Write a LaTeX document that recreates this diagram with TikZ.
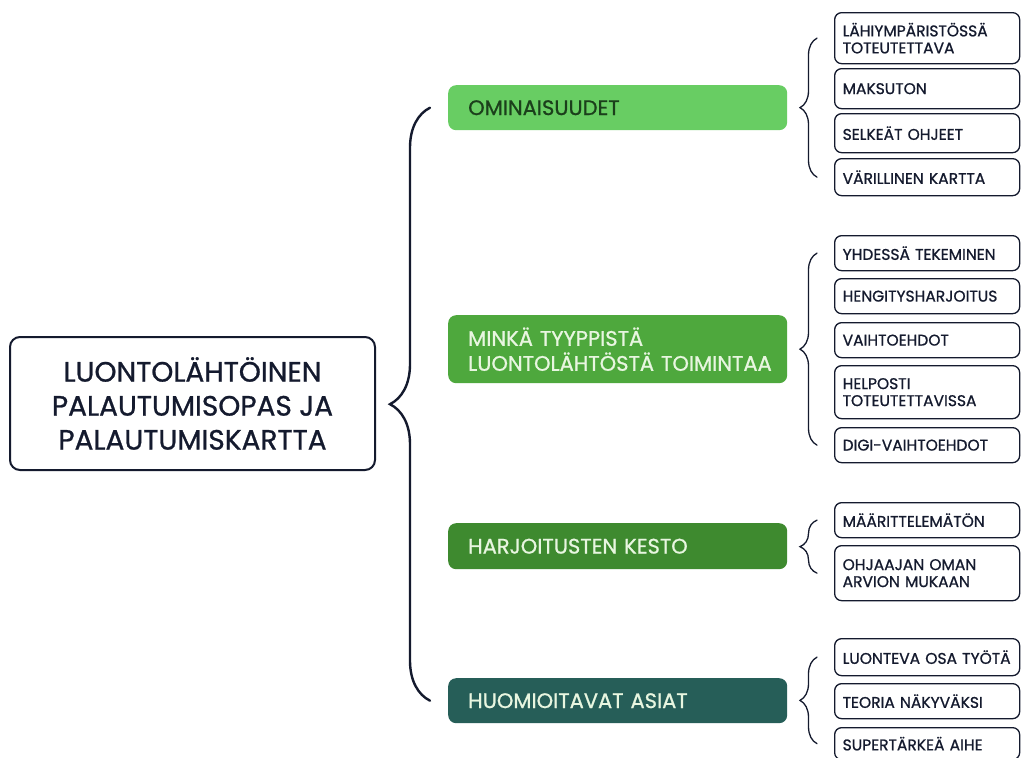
\documentclass[tikz,border=0pt]{standalone}
\usepackage{fontspec}
\setmainfont{Poppins}[FakeBold=0.9]
\usetikzlibrary{decorations.pathreplacing,calc}
\definecolor{ink}{HTML}{141A2E}
\definecolor{gA}{HTML}{68CD63}
\definecolor{gAtext}{HTML}{1B3F1B}
\definecolor{gB}{HTML}{4EA83D}
\definecolor{gC}{HTML}{3E8A2F}
\definecolor{gD}{HTML}{265E58}
\definecolor{lighttext}{HTML}{E8F6E0}
\begin{document}
\begin{tikzpicture}[x=1pt,y=-1pt,
 leafbox/.style={draw=ink, line width=1.3pt, rounded corners=7pt, fill=white, anchor=north west, text width=169pt, inner xsep=8pt, inner ysep=0pt, align=left, font=\fontsize{15.5}{17}\selectfont, text=ink},
 branchbox/.style={rounded corners=8pt, anchor=north west, text width=299pt, inner xsep=20pt, inner ysep=0pt, align=left, font=\fontsize{21}{25}\selectfont},
 mainbox/.style={draw=ink, line width=2pt, rounded corners=10pt, minimum width=365pt, minimum height=133pt, align=center, font=\fontsize{28}{34}\selectfont, text=ink},
 bigbrace/.style={draw=ink, line width=2.4pt, line cap=round, decorate, decoration={brace, amplitude=40pt}},
 smallbrace/.style={draw=ink, line width=1.3pt, line cap=round, decorate, decoration={brace, amplitude=17pt}}
]
\useasboundingbox[fill=white] (0,0) rectangle (1021,758);

% main
\node[mainbox] (main) at (192.5,403.5) {LUONTOLÄHTÖINEN\\PALAUTUMISOPAS JA\\PALAUTUMISKARTTA};

% branches
\node[branchbox, fill=gA, text=gAtext, minimum height=45pt] (b1) at (448,85) {OMINAISUUDET};
\node[branchbox, fill=gB, text=lighttext, minimum height=68pt] (b2) at (448,315) {\mbox{MINKÄ TYYPPISTÄ}\\\mbox{LUONTOLÄHTÖSTÄ TOIMINTAA}};
\node[branchbox, fill=gC, text=lighttext, minimum height=46pt] (b3) at (448,523) {HARJOITUSTEN KESTO};
\node[branchbox, fill=gD, text=lighttext, minimum height=45pt] (b4) at (448,678) {HUOMIOITAVAT ASIAT};

% leaves group 1
\node[leafbox, minimum height=51pt] (l1) at (834,12) {LÄHIYMPÄRISTÖSSÄ\\TOTEUTETTAVA};
\node[leafbox, minimum height=40pt] (l2) at (834,68) {MAKSUTON};
\node[leafbox, minimum height=39pt] (l3) at (834,113) {SELKEÄT OHJEET};
\node[leafbox, minimum height=37pt] (l4) at (834,158) {VÄRILLINEN KARTTA};
% group 2
\node[leafbox, minimum height=35pt] (l5) at (834,235) {YHDESSÄ TEKEMINEN};
\node[leafbox, minimum height=35pt] (l6) at (834,278) {HENGITYSHARJOITUS};
\node[leafbox, minimum height=35pt] (l7) at (834,322) {VAIHTOEHDOT};
\node[leafbox, minimum height=53pt] (l8) at (834,365) {HELPOSTI\\TOTEUTETTAVISSA};
\node[leafbox, minimum height=35pt] (l9) at (834,427) {DIGI-VAIHTOEHDOT};
% group 3
\node[leafbox, minimum height=35pt] (l10) at (834,502) {MÄÄRITTELEMÄTÖN};
\node[leafbox, minimum height=55pt] (l11) at (834,545) {OHJAAJAN OMAN\\ARVION MUKAAN};
% group 4
\node[leafbox, minimum height=37pt] (l12) at (834,638) {LUONTEVA OSA TYÖTÄ};
\node[leafbox, minimum height=35pt] (l13) at (834,683) {TEORIA NÄKYVÄKSI};
\node[leafbox, minimum height=32pt] (l14) at (834,727) {SUPERTÄRKEÄ AIHE};

% braces
\draw[bigbrace] ($(b4.west)+(-18,0)$) -- ($(b1.west)+(-18,0)$);
\draw[smallbrace] ($(l4.west)+(-17,0)$) -- ($(l1.west)+(-17,0)$);
\draw[smallbrace] ($(l9.west)+(-17,0)$) -- ($(l5.west)+(-17,0)$);
\draw[smallbrace] ($(l11.west)+(-17,0)$) -- ($(l10.west)+(-17,0)$);
\draw[smallbrace] ($(l14.west)+(-17,0)$) -- ($(l12.west)+(-17,0)$);
\end{tikzpicture}
\end{document}
